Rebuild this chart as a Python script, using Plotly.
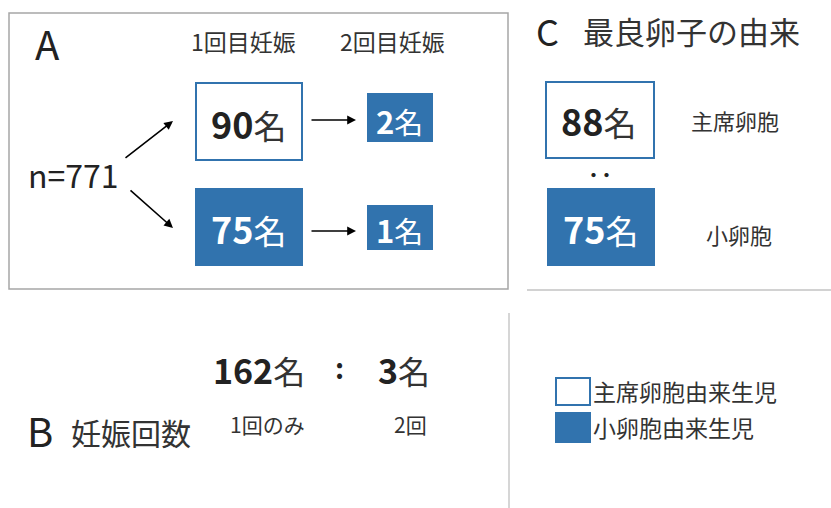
import plotly.graph_objects as go

# ---------------- data ----------------
total_n = 771
pregnancy_labels = ["1回目妊娠", "2回目妊娠"]
first_pregnancy = [90, 75]      # 主席卵胞由来, 小卵胞由来
second_pregnancy = [2, 1]
best_egg_title = "最良卵子の由来"
best_egg_labels = ["主席卵胞", "小卵胞"]
best_egg_counts = [88, 75]
preg_count_title = "妊娠回数"
preg_count_labels = ["1回のみ", "2回"]
preg_counts = [162, 3]
legend_labels = ["主席卵胞由来生児", "小卵胞由来生児"]
unit = "名"

# ---------------- style ----------------
BLUE = "#3173AE"
DARK = "#222222"
TXT = "#333333"
GRAY = "#A6A6A6"
FONT = "Noto Sans CJK JP"

fig = go.Figure()
fig.add_trace(go.Scatter(x=[20], y=[20], mode="markers", marker=dict(opacity=0), hoverinfo="skip", showlegend=False))

shapes = []
ann = []


def rect(x0, y0, x1, y1, filled):
    shapes.append(dict(type="rect", xref="x", yref="y", x0=x0, y0=y0, x1=x1, y1=y1,
                       line=dict(color=BLUE, width=2),
                       fillcolor=BLUE if filled else "white", layer="below"))


def text(x, y, s, size, color=TXT, xanchor="center"):
    ann.append(dict(x=x, y=y, xref="x", yref="y", text=s, showarrow=False,
                    xanchor=xanchor, yanchor="middle",
                    font=dict(family=FONT, size=size, color=color)))


def count_text(x, y, n, size, filled, unit_size=None):
    us = unit_size or size - 2
    col = "white" if filled else DARK
    ucol = "white" if filled else TXT
    s = f"<b>{n}</b><span style='font-size:{us}px;fill:{ucol}'>{unit}</span>"
    text(x, y, s, size, col)


def arrow(x0, y0, x1, y1):
    ann.append(dict(x=x1, y=y1, ax=x0, ay=y0, xref="x", yref="y", axref="x", ayref="y",
                    text="", showarrow=True, arrowhead=2, arrowsize=1.1, arrowwidth=1.6,
                    arrowcolor="black"))


# ---------- panel A ----------
shapes.append(dict(type="rect", xref="x", yref="y", x0=9, y0=13, x1=508, y1=289,
                   line=dict(color=GRAY, width=1.5), fillcolor="rgba(0,0,0,0)"))
text(47, 43, "A", 40, DARK)
text(243, 41, pregnancy_labels[0], 23, TXT)
text(392, 41, pregnancy_labels[1], 23, TXT)
text(73, 174, f"n={total_n}", 32, DARK)

rect(196, 83, 302, 160, False)
rect(196, 189, 302, 265, True)
rect(368, 94, 432, 141, True)
rect(368, 206, 432, 249, True)
count_text(248, 123, first_pregnancy[0], 36, False, 33)
count_text(248, 228, first_pregnancy[1], 36, True, 33)
count_text(399, 120, second_pregnancy[0], 31, True, 29)
count_text(399, 229, second_pregnancy[1], 31, True, 29)

arrow(124, 159, 173, 121)
arrow(129, 189, 173, 228)
arrow(310, 120, 356, 120)
arrow(310, 231, 356, 231)

# ---------- panel C ----------
text(547, 30, "C", 36, DARK)
text(691, 30, best_egg_title, 31, TXT)
rect(546, 82, 654, 158, False)
rect(548, 189, 654, 265, True)
count_text(598, 120, best_egg_counts[0], 36, False, 33)
count_text(600, 228, best_egg_counts[1], 36, True, 33)
text(600, 173, "<b>‥</b>", 26, DARK)
text(735, 120, best_egg_labels[0], 22, TXT)
text(739, 234, best_egg_labels[1], 22, TXT)
shapes.append(dict(type="line", xref="x", yref="y", x0=527, y0=290, x1=831, y1=290,
                   line=dict(color=GRAY, width=1.2)))
shapes.append(dict(type="line", xref="x", yref="y", x0=509, y0=313, x1=509, y1=508,
                   line=dict(color="#BBBBBB", width=1.2)))

# ---------- panel B ----------
text(40, 430, "B", 40, DARK)
text(131, 432, preg_count_title, 30, TXT)
count_text(259, 369, preg_counts[0], 34, False, 32)
text(339, 367, "<b>:</b>", 28, DARK)
count_text(404, 369, preg_counts[1], 34, False, 32)
text(267, 424, preg_count_labels[0], 21, TXT)
text(410, 424, preg_count_labels[1], 21, TXT)

# ---------- legend ----------
rect(556, 378, 590, 405, False)
rect(556, 413, 590, 442, True)
text(591, 391, legend_labels[0], 23, TXT, "left")
text(591, 427, legend_labels[1], 23, TXT, "left")

fig.update_layout(
    width=831, height=508,
    margin=dict(l=0, r=0, t=0, b=0),
    paper_bgcolor="white", plot_bgcolor="white",
    xaxis=dict(range=[0, 831], visible=False, fixedrange=True),
    yaxis=dict(range=[508, 0], visible=False, fixedrange=True),
    shapes=shapes, annotations=ann, showlegend=False,
)

fig.write_html("out.html", config={"displayModeBar": False},
               post_script="document.body.style.margin='0';")
